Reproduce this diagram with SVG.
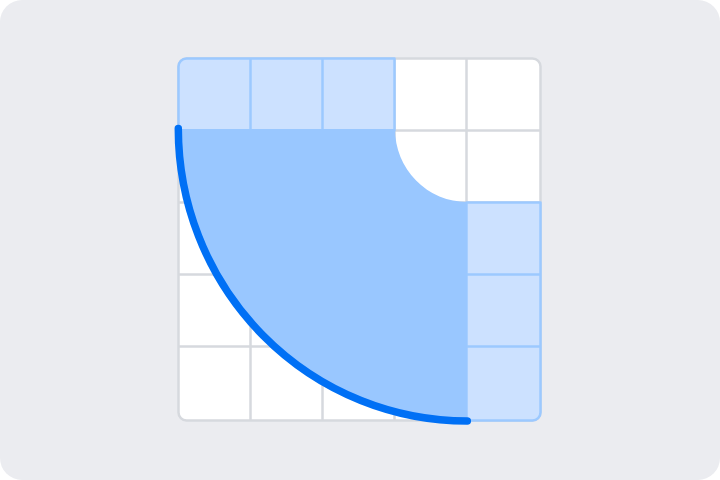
<svg xmlns="http://www.w3.org/2000/svg" width="720" height="480" viewBox="0 0 720 480">
<style>
.grid{stroke:#D6D9DE;stroke-width:2.5;fill:none}
.lb{fill:#CCE1FF}
.lbl{stroke:#9CC9FF;stroke-width:2.5;fill:none;stroke-linejoin:round}
</style>
<rect x="0" y="0" width="720" height="480" rx="22" fill="#EBECF0"/>
<g id="grid">
<rect x="178.5" y="58.5" width="362" height="362" rx="8" fill="#FFFFFF"/>
<path class="grid" d="M250.5,58.5V420.5M322.5,58.5V420.5M394.5,58.5V420.5M466.5,58.5V420.5M178.5,130.5H540.5M178.5,202.5H540.5M178.5,274.5H540.5M178.5,346.5H540.5"/>
<rect class="grid" x="178.5" y="58.5" width="362" height="362" rx="8"/>
</g>
<g id="top-cells">
<path class="lb" d="M178.5,130.5V66.5A8,8 0 0 1 186.5,58.5H394.5V130.5Z"/>
<path class="lbl" d="M178.5,130.5V66.5A8,8 0 0 1 186.5,58.5H394.5V130.5H178.5Z M250.5,58.5V130.5M322.5,58.5V130.5"/>
</g>
<g id="right-cells">
<path class="lb" d="M466.5,202.5H540.5V412.5A8,8 0 0 1 532.5,420.5H466.5Z"/>
<path class="lbl" d="M466.5,202.5H540.5V412.5A8,8 0 0 1 532.5,420.5H466.5V202.5Z M466.5,274.5H540.5M466.5,346.5H540.5"/>
</g>
<g id="sector">
<path d="M178,129H395A72,73 0 0 0 467,202V421A289,292 0 0 1 178,129Z" fill="#99C7FF"/>
</g>
<g id="connectors">
<path d="M178.3,128.5A289,292.5 0 0 0 467.3,421" fill="none" stroke="#0070F5" stroke-width="7.5" stroke-linecap="round"/>
</g>
</svg>
